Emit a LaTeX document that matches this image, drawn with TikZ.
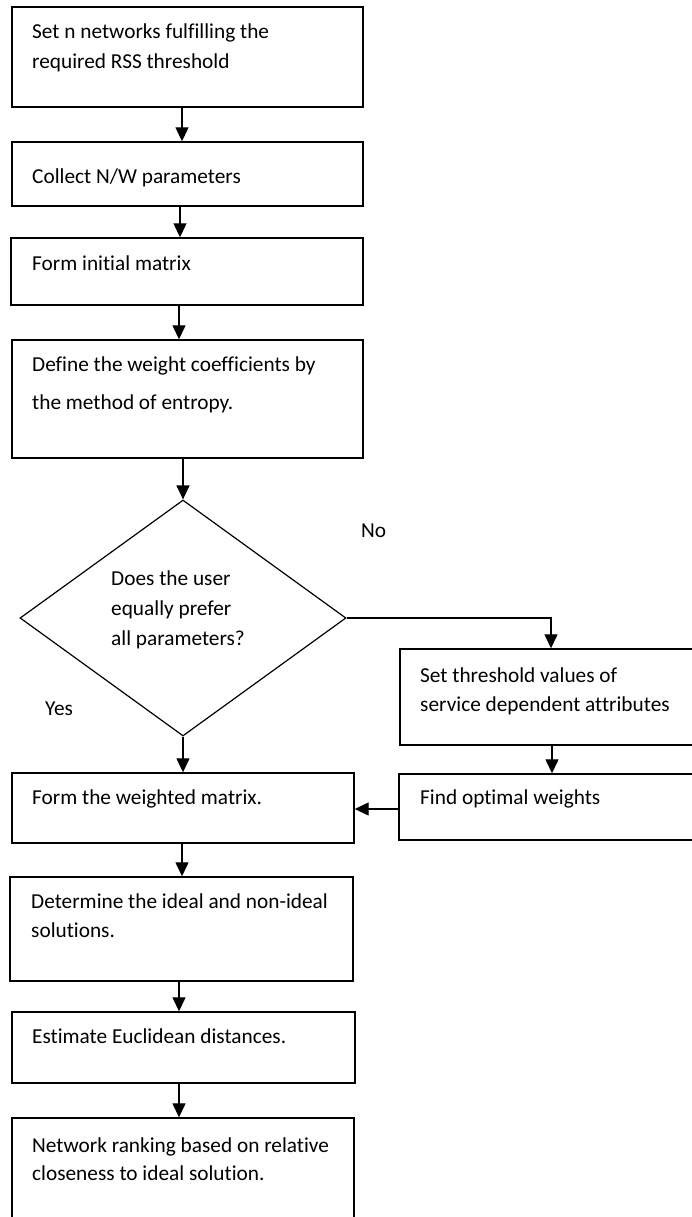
\documentclass[tikz,border=0pt]{standalone}
\usepackage{fontspec}
\setmainfont{Carlito}[Ligatures=NoCommon]
\usetikzlibrary{shapes.geometric,arrows.meta}
\begin{document}
\begin{tikzpicture}[x=1pt,y=-1pt,
  box/.style={draw,line width=1.4pt,rectangle,inner sep=0pt},
  decision/.style={draw,line width=1.2pt,diamond,inner sep=0pt},
  txt/.style={anchor=base west,inner sep=0pt,align=left},
  arr/.style={line width=1.3pt,-{Triangle[length=14pt,width=13pt]}},
  every node/.append style={font=\fontsize{21.3}{30}\selectfont}]
\useasboundingbox (0,0) rectangle (691,1217);

% process boxes
\node[box,minimum width=351pt,minimum height=100pt] (b1) at (187.5,57) {};
\node[box,minimum width=351pt,minimum height=64pt]  (b2) at (187.5,174) {};
\node[box,minimum width=352pt,minimum height=67pt]  (b3) at (187,271.5) {};
\node[box,minimum width=351pt,minimum height=118pt] (b4) at (187.5,399) {};
\node[decision,minimum width=326pt,minimum height=236pt] (dec) at (183,618) {};
\node[box,minimum width=300pt,minimum height=96pt]  (b5) at (550,697) {};
\node[box,minimum width=301pt,minimum height=66pt]  (b6) at (549.5,807) {};
\node[box,minimum width=342pt,minimum height=70pt]  (b7) at (183,808) {};
\node[box,minimum width=343pt,minimum height=104pt] (b8) at (181.5,929) {};
\node[box,minimum width=343pt,minimum height=71pt]  (b9) at (183.5,1047.5) {};
\node[box,minimum width=342pt,minimum height=112pt] (b10) at (183,1174) {};

% box texts (anchored at the baseline of their last line)
\node[txt] (t1) at (32,69) {Set n networks fulfilling the\\required RSS threshold};
\node[txt] (t2) at (32,183) {Collect N/W parameters};
\node[txt] (t3) at (32,270) {Form initial matrix};
\node[txt,font=\fontsize{21.3}{38}\selectfont] (t4) at (32,409) {Define the weight coefficients by\\the method of entropy.};
\node[txt] (td) at (111,645) {Does the user\\equally prefer\\all parameters?};
\node[txt,font=\fontsize{21.3}{29}\selectfont] (t5) at (420,711) {Set threshold values of\\service dependent attributes};
\node[txt] (t6) at (420,804) {Find optimal weights};
\node[txt] (t7) at (32,804) {Form the weighted matrix.};
\node[txt,font=\fontsize{21.3}{29}\selectfont] (t8) at (31,937) {Determine the ideal and non-ideal\\solutions.};
\node[txt] (t9) at (32,1043) {Estimate Euclidean distances.};
\node[txt,font=\fontsize{21.3}{28}\selectfont] (t10) at (32,1180) {Network ranking based on relative\\closeness to ideal solution.};

% branch labels
\node[txt] (no) at (361,537) {No};
\node[txt] (yes) at (45,715) {Yes};

% connectors
\draw[arr] (b1.south -| 182,0) -- (b2.north -| 182,0);
\draw[arr] (b2.south -| 180,0) -- (b3.north -| 180,0);
\draw[arr] (b3.south -| 179,0) -- (b4.north -| 179,0);
\draw[arr] (b4.south -| 183,0) -- (dec.north);
\draw[arr] (dec.east) -| (b5.north -| 551,0);
\draw[arr] (b5.south -| 552,0) -- (b6.north -| 552,0);
\draw[arr] (b6.west |- 0,809) -- (b7.east |- 0,809);
\draw[arr] (dec.south) -- (b7.north -| dec.south);
\draw[arr] (b7.south -| 182,0) -- (b8.north -| 182,0);
\draw[arr] (b8.south -| 179,0) -- (b9.north -| 179,0);
\draw[arr] (b9.south -| 179,0) -- (b10.north -| 179,0);
\end{tikzpicture}
\end{document}
